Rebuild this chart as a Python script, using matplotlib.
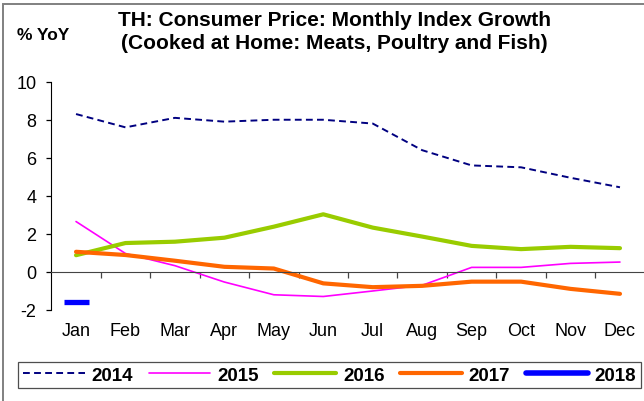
#!/usr/bin/env python3
"""TH consumer price: monthly index growth, cooked-at-home meats, poultry and fish"""

import matplotlib

matplotlib.use("Agg")
import matplotlib.pyplot as plt
from matplotlib.lines import Line2D
from matplotlib.patches import Rectangle
import numpy as np

plt.rcParams["font.family"] = ["Liberation Sans", "DejaVu Sans"]
plt.rcParams["axes.unicode_minus"] = False

#
# DATA (% YoY)
#
months = ["Jan", "Feb", "Mar", "Apr", "May", "Jun", "Jul", "Aug", "Sep", "Oct", "Nov", "Dec"]
y2014 = [8.3, 7.6, 8.1, 7.9, 8.0, 8.0, 7.8, 6.4, 5.6, 5.5, 4.95, 4.45]
y2015 = [2.65, 0.97, 0.33, -0.53, -1.2, -1.29, -1.0, -0.7, 0.24, 0.24, 0.45, 0.52]
y2016 = [0.88, 1.52, 1.59, 1.8, 2.38, 3.03, 2.33, 1.86, 1.37, 1.2, 1.32, 1.25]
y2017 = [1.06, 0.89, 0.59, 0.27, 0.18, -0.6, -0.8, -0.73, -0.51, -0.51, -0.89, -1.15]
y2018 = [-1.58]

series = [
    ("2014", y2014, dict(color="#000080", lw=1.4, ls=(0, (3.5, 2.2)))),
    ("2015", y2015, dict(color="#FF00FF", lw=1.2, ls="-")),
    ("2016", y2016, dict(color="#99CC00", lw=3.0, ls="-")),
    ("2017", y2017, dict(color="#FF6600", lw=3.0, ls="-")),
]

W, H = 644, 402
fig = plt.figure(figsize=(W / 100, H / 100), dpi=100)

# plot area in pixel terms
left, right, top, bottom = 51.3, 644.7, 82.7, 311.0
ax = fig.add_axes([left / W, 1 - bottom / H, (right - left) / W, (bottom - top) / H])

x = np.arange(len(months))
handles = []
for name, vals, st in series:
    ax.plot(x[: len(vals)], vals, solid_capstyle="round", **st)
    handles.append(Line2D([], [], solid_capstyle="round", label=name, **st))

# only January available for 2018
ax.plot(x[: len(y2018)], y2018, ls="none", marker="_", markersize=18, markeredgewidth=3.8, color="#0000FF")
handles.append(Line2D([], [], color="#0000FF", lw=4.0, solid_capstyle="round", label="2018"))

ax.set_xlim(-0.5, len(months) - 0.5)
ax.set_ylim(-2, 10)
ax.set_yticks(np.arange(-2, 11, 2))
ax.tick_params(axis="y", direction="out", length=3.6, width=0.9, pad=7, labelsize=13)

# category axis crosses at zero, ticks between months
ax.spines["bottom"].set_position(("data", 0))
ax.spines["bottom"].set_color("#444444")
ax.spines["top"].set_visible(False)
ax.spines["right"].set_visible(False)
ax.set_xticks(np.arange(0.5, len(months) - 1, 1.0))
ax.tick_params(axis="x", direction="out", length=4, width=0.9, colors="#444444", labelbottom=False)
for i, m in enumerate(months):
    ax.text(i, -3.1, m, ha="center", va="center", fontsize=13, clip_on=False)

ax.patch.set_visible(False)

# titles
fig.text(334 / W, 1 - 20.5 / H, "TH: Consumer Price: Monthly Index Growth", ha="center", va="center", fontsize=15, fontweight="bold")
fig.text(334 / W, 1 - 43.5 / H, "(Cooked at Home: Meats, Poultry and Fish)", ha="center", va="center", fontsize=15, fontweight="bold")
fig.text(43 / W, 1 - 35 / H, "% YoY", ha="center", va="center", fontsize=12.5, fontweight="bold")

leg = fig.legend(
    handles=handles,
    loc="center",
    bbox_to_anchor=(329.5 / W, 1 - 376 / H),
    ncol=5,
    prop={"weight": "bold", "size": 13.5},
    handlelength=3.3,
    handletextpad=0.35,
    columnspacing=0.85,
    borderpad=0.25,
    frameon=True,
    fancybox=False,
)
leg.get_frame().set_edgecolor("#222222")
leg.get_frame().set_linewidth(0.9)

# outer chart frame (only top/left edges fall inside the image)
fig.patches.append(
    Rectangle((2.5 / W, -0.5), 1.5, 1.5 - 4.5 / H, transform=fig.transFigure, fill=False, edgecolor="#808080", lw=1.4)
)

fig.savefig("out.png", dpi=100)
